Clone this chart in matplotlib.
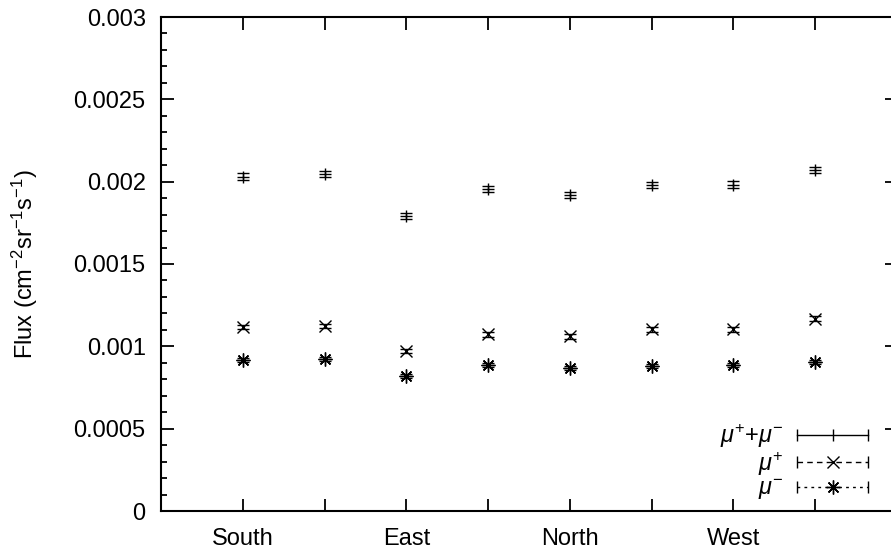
import numpy as np
import matplotlib
matplotlib.use("Agg")
import matplotlib.pyplot as plt
from matplotlib.lines import Line2D
from matplotlib.legend_handler import HandlerLine2D
from matplotlib.ticker import MultipleLocator, FixedLocator

# ---- data ----
positions = [1, 2, 3, 4, 5, 6, 7, 8]
tick_labels = ["South", "", "East", "", "North", "", "West", ""]
flux_sum = [0.002030, 0.002047, 0.001792, 0.001956, 0.001921, 0.001980, 0.001982, 0.002071]
flux_sum_err = [0.000020, 0.000020, 0.000019, 0.000020, 0.000019, 0.000020, 0.000020, 0.000021]
flux_plus = [0.001117, 0.001123, 0.000972, 0.001073, 0.001060, 0.001103, 0.001103, 0.001168]
flux_plus_err = [0.000014, 0.000014, 0.000013, 0.000014, 0.000014, 0.000014, 0.000014, 0.000015]
flux_minus = [0.000915, 0.000925, 0.000820, 0.000885, 0.000869, 0.000879, 0.000885, 0.000905]
flux_minus_err = [0.000012, 0.000012, 0.000011, 0.000012, 0.000012, 0.000012, 0.000012, 0.000012]
series_labels = [r"$\mu^{+}$+$\mu^{-}$", r"$\mu^{+}$", r"$\mu^{-}$"]

plt.rcParams["font.family"] = ["Liberation Sans", "DejaVu Sans"]
plt.rcParams["mathtext.fontset"] = "custom"
plt.rcParams["mathtext.rm"] = "Liberation Sans"
plt.rcParams["mathtext.it"] = "Liberation Sans:italic"
plt.rcParams["mathtext.bf"] = "Liberation Sans:bold"

FS = 17

fig = plt.figure(figsize=(8.91, 5.52), dpi=100)
ax = fig.add_axes([161 / 891, 41 / 552, 736 / 891, 494 / 552])

asterisk = (8, 2, 0)
ax.errorbar(positions, flux_sum, yerr=flux_sum_err, fmt="+", color="k",
            ms=9, mew=1, elinewidth=1, capsize=4.5, capthick=1)
ax.errorbar(positions, flux_plus, yerr=flux_plus_err, fmt="x", color="k",
            ms=9, mew=1, elinewidth=1, capsize=4.5, capthick=1)
ax.errorbar(positions, flux_minus, yerr=flux_minus_err, fmt="none", color="k",
            elinewidth=1, capsize=4.5, capthick=1)
ax.plot(positions, flux_minus, ls="none", marker=asterisk, color="k", ms=10, mew=1)

ax.set_xlim(0, 9)
ax.set_ylim(0, 0.003)
ax.xaxis.set_major_locator(FixedLocator(positions))
ax.set_xticklabels(tick_labels)
ax.yaxis.set_minor_locator(MultipleLocator(0.0001))
ax.set_yticks([0, 0.0005, 0.001, 0.0015, 0.002, 0.0025, 0.003])
ax.set_yticklabels(["0", "0.0005", "0.001", "0.0015", "0.002", "0.0025", "0.003"])

ax.tick_params(which="both", direction="in", top=True, right=True, width=1.3,
               labelsize=FS)
ax.tick_params(which="major", length=9)
ax.tick_params(which="minor", length=4.5)
ax.tick_params(axis="y", pad=11)
ax.tick_params(axis="x", pad=12)
for s in ax.spines.values():
    s.set_linewidth(1.5)

ax.set_ylabel(r"Flux (cm$^{-2}$sr$^{-1}$s$^{-1}$)", fontsize=FS)
ax.yaxis.set_label_coords((40 - 161) / 736, 0.5)

# legend proxies
caps_s = Line2D([], [], color="k", ls="-", lw=1, marker="|", ms=8, mew=1)
mid_s = Line2D([], [], color="k", ls="none", marker="|", ms=8, mew=1)
caps_p = Line2D([], [], color="k", ls=(0, (4, 3)), lw=1, marker="|", ms=8, mew=1)
mid_p = Line2D([], [], color="k", ls="none", marker="x", ms=9, mew=1)
caps_m = Line2D([], [], color="k", ls=(0, (2, 3)), lw=1, marker="|", ms=8, mew=1)
mid_m = Line2D([], [], color="k", ls="none", marker=asterisk, ms=10, mew=1)
hmap = {}
for c in (caps_s, caps_p, caps_m):
    hmap[c] = HandlerLine2D(numpoints=2, marker_pad=0)
for m in (mid_s, mid_p, mid_m):
    hmap[m] = HandlerLine2D(numpoints=1)

ax.legend([(caps_s, mid_s), (caps_p, mid_p), (caps_m, mid_m)], series_labels,
          handler_map=hmap, loc="lower right", bbox_to_anchor=(0.9606, 0.018),
          frameon=False, markerfirst=False, fontsize=FS, handlelength=3.0,
          handletextpad=0.6, labelspacing=0.0, borderpad=0, borderaxespad=0)

fig.savefig("out.png", dpi=100)
